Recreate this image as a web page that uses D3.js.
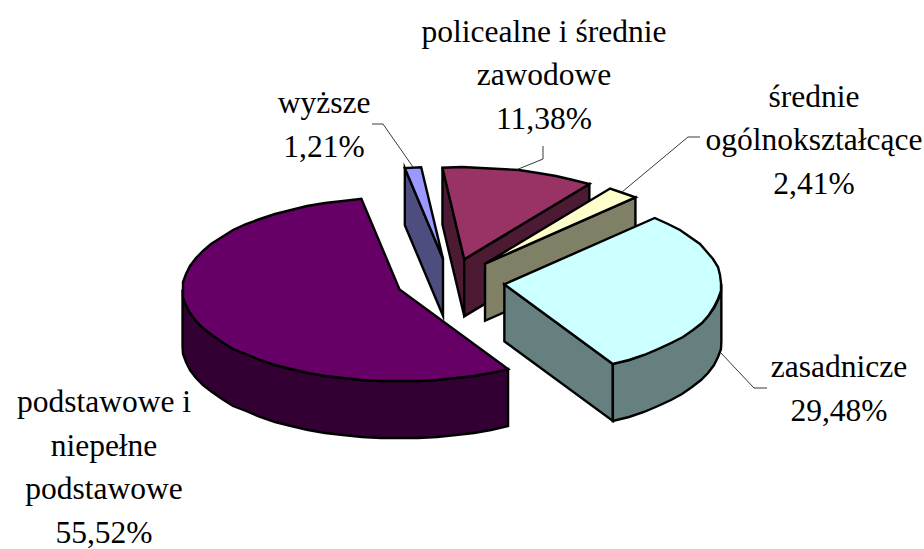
<!DOCTYPE html>
<html>
    <head>
        <title>Wyksztalcenie</title>
        <meta charset="utf-8">
        <style>
            html, body {
                margin: 0px;
                padding: 0px;
                background-color: #fff;
            }

            svg {
                display: block;
            }

            svg text {
                fill: #000;
                font-family: "Liberation Serif";
                font-size: 31.5px;
                text-anchor: middle;
            }

            .leader {
                fill: none;
                stroke: #222;
                stroke-width: 0.9;
            }

            .face {
                stroke: #000;
                stroke-width: 2.4;
                stroke-linejoin: miter;
                stroke-miterlimit: 8;
            }
        </style>
        <script src="https://cdn.jsdelivr.net/npm/d3@7"></script>
    </head>
    <body>
        <div id="main"></div>

        <script>
            var categories = ["podstawowe i niepełne podstawowe", "wyższe", "policealne i średnie zawodowe", "średnie ogólnokształcące", "zasadnicze"];
            var values = [55.52, 1.21, 11.38, 2.41, 29.48];
            var valueLabels = ["55,52%", "1,21%", "11,38%", "2,41%", "29,48%"];
            var labelLines = [["podstawowe i", "niepełne", "podstawowe"], ["wyższe"], ["policealne i średnie", "zawodowe"], ["średnie", "ogólnokształcące"], ["zasadnicze"]];
            var topColors = ["#660066", "#9999ff", "#993366", "#ffffcc", "#ccffff"];
            var sideColors = ["#330033", "#4d4d80", "#4d1a33", "#808066", "#668080"];

            var width = 924;
            var height = 549;
            var cx = 450.5, cy = 281.5;
            var rx = 217, ry = 92;
            var depth = 57;
            var explode = 0.25;
            var startAngle = 150 * Math.PI / 180;

            // unit circle -> screen, squashed for the tilt
            var x = d3.scaleLinear().domain([-1, 1]).range([cx - rx, cx + rx]);
            var y = d3.scaleLinear().domain([-1, 1]).range([cy - ry, cy + ry]);

            var labelPos = [[104, 412], [324, 113], [544, 41.5], [814, 106.5], [839, 377]];
            var leaders = [
                null,
                [[372, 124], [383, 124], [413, 167]],
                [[543, 146], [543, 159], [516, 170]],
                [[700, 137], [688, 137], [622, 192]],
                [[721, 353], [754, 388], [767, 388]]
            ];

            var line = d3.line();

            function project(d, u, v) {
                var mid = (d.startAngle + d.endAngle) / 2;
                return [x(u + explode * Math.sin(mid)), y(v - explode * Math.cos(mid))];
            }

            function rimPoints(d, a0, a1) {
                var n = Math.max(1, Math.round((a1 - a0) / (5 * Math.PI / 180)));
                return d3.range(n + 1).map(function(i) {
                    var a = a0 + (a1 - a0) * i / n;
                    var p = project(d, Math.sin(a), -Math.cos(a));
                    // rim is a rough polygon in the original too
                    return (i == 0 || i == n) ? p : [Math.round(p[0]), Math.round(p[1])];
                });
            }

            function drop(points) {
                return points.map(function(p) { return [p[0], p[1] + depth]; });
            }

            function drawSlice(g, d, i) {
                var apex = project(d, 0, 0);
                var a0 = d.startAngle, a1 = d.endAngle;
                // pie runs past a full turn after the start angle
                if (a0 >= 2 * Math.PI) {
                    a0 -= 2 * Math.PI;
                    a1 -= 2 * Math.PI;
                }
                var rim = rimPoints(d, a0, a1);

                // cut walls that face the viewer
                if (Math.sin(a0) < 0) {
                    var w0 = [apex, rim[0]];
                    g.append("path").attr("class", "face").attr("fill", sideColors[i])
                        .attr("d", line(w0.concat(drop(w0).reverse())) + "Z");
                }
                if (Math.sin(a1) > 0) {
                    var w1 = [apex, rim[rim.length - 1]];
                    g.append("path").attr("class", "face").attr("fill", sideColors[i])
                        .attr("d", line(w1.concat(drop(w1).reverse())) + "Z");
                }

                // round outer wall, front half only
                var f0 = Math.max(a0, Math.PI / 2), f1 = Math.min(a1, 3 * Math.PI / 2);
                if (f1 > f0) {
                    var front = rimPoints(d, f0, f1);
                    g.append("path").attr("class", "face").attr("fill", sideColors[i])
                        .attr("d", line(front.concat(drop(front).reverse())) + "Z");
                }

                g.append("path").attr("class", "face").attr("fill", topColors[i])
                    .attr("d", line([apex].concat(rim)) + "Z");
            }

            function main() {
                var svg = d3.select("#main").append("svg")
                    .attr("width", width)
                    .attr("height", height);

                var arcs = d3.pie().sort(null)
                    .startAngle(startAngle)
                    .endAngle(startAngle + 2 * Math.PI)(values);

                // back to front
                [2, 1, 3, 4, 0].forEach(function(i) {
                    drawSlice(svg.append("g").attr("class", "slice"), arcs[i], i);
                });

                svg.selectAll(".leader")
                    .data(leaders.filter(Boolean))
                    .enter()
                    .append("path")
                    .attr("class", "leader")
                    .attr("d", function(d) { return line(d); });

                categories.forEach(function(c, i) {
                    var lines = labelLines[i].concat([valueLabels[i]]);
                    svg.append("text")
                        .attr("transform", "translate(" + labelPos[i][0] + "," + labelPos[i][1] + ")")
                        .selectAll("tspan")
                        .data(lines)
                        .enter()
                        .append("tspan")
                        .attr("x", 0)
                        .attr("y", function(d, k) { return k * 43.7; })
                        .text(function(d) { return d; });
                });
            }

            main();
        </script>
    </body>
</html>
